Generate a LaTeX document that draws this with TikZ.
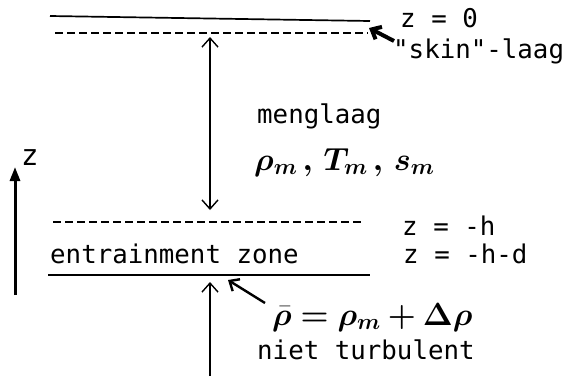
\RequirePackage{fix-cm}
\documentclass[tikz,border=0pt]{standalone}
\usepackage{fontspec}
\usepackage{bm}
\newfontfamily\plotfont{DejaVu Sans Mono}
\usetikzlibrary{arrows.meta}
\tikzset{
  lbl/.style={anchor=base west,inner sep=0pt,font=\plotfont\fontsize{25.8}{30}\selectfont},
  hand/.style={anchor=base west,inner sep=0pt,font=\fontsize{32}{36}\selectfont},
  levelline/.style={line width=1.7pt},
  dashlevel/.style={line width=1.5pt,dash pattern=on 7.5pt off 4.5pt},
  veearrow/.style={line width=1.4pt,-{Straight Barb[length=9pt,width=16pt]}},
  dblarrow/.style={line width=1.4pt,{Straight Barb[length=9pt,width=16pt]}-{Straight Barb[length=9pt,width=16pt]}},
  axisarrow/.style={line width=3pt,-{Triangle[length=14pt,width=10pt]}},
  boldarrow/.style={line width=4pt,-{Straight Barb[length=8pt,width=14pt]}},
  medarrow/.style={line width=2.4pt,-{Straight Barb[length=8pt,width=14pt]}},
}
\begin{document}
\begin{tikzpicture}[x=1pt,y=-1pt]
\useasboundingbox (0,0) rectangle (576,376);
% levels
\coordinate (topL) at (50,16);
\coordinate (topR) at (370,21);
\coordinate (skinL) at (55,33);
\coordinate (skinR) at (368,33);
\coordinate (hL) at (53,222);
\coordinate (hR) at (365,222);
\coordinate (hdL) at (48,275);
\coordinate (hdR) at (370,275);
\draw[levelline] (topL) -- (topR);
\draw[dashlevel] (skinL) -- (skinR);
\draw[dashlevel] (hL) -- (hR);
\draw[levelline] (hdL) -- (hdR);
% texts
\node[lbl] (z0) at (400,27) {z = 0};
\node[lbl] (skin) at (393,58) {"skin"-laag};
\node[lbl] (meng) at (257,123) {menglaag};
\node[hand] (vars) at (254,170) {$\bm{\rho_m\,,\,T_m\,,\,s_m}$};
\node[lbl] (zh) at (402,235) {z = -h};
\node[lbl] (entr) at (50,263) {entrainment zone};
\node[lbl] (zhd) at (403,263) {z = -h-d};
\node[hand] (rhobar) at (272,325) {$\bm{\bar\rho=\rho_m+\Delta\rho}$};
\node[lbl] (niet) at (257,359) {niet turbulent};
\node[lbl,font=\plotfont\fontsize{29}{32}\selectfont] (zlab) at (21,165) {z};
% arrows
\coordinate (mixTop) at (210,37);
\coordinate (mixBot) at (210,210);
\draw[dblarrow] (mixTop) -- (mixBot);
\coordinate (axB) at (15,295);
\coordinate (axT) at (15,167);
\draw[axisarrow] (axB) -- (axT);
\coordinate (lowB) at (210,376);
\coordinate (lowT) at (210,282);
\draw[veearrow] (lowB) -- (lowT);
\coordinate (skA) at (394,41);
\coordinate (skB) at (369,28);
\draw[boldarrow] (skA) -- (skB);
\coordinate (rbA) at (265,303);
\coordinate (rbB) at (228,280);
\draw[medarrow] (rbA) -- (rbB);
\end{tikzpicture}
\end{document}
